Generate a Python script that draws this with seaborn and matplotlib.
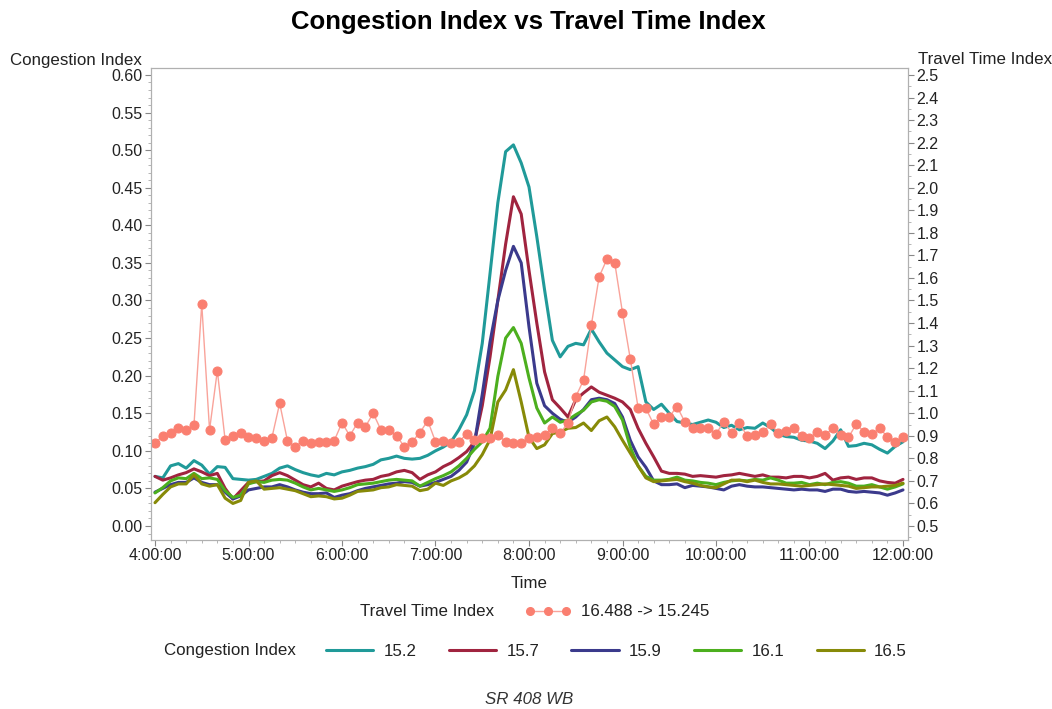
import numpy as np
import pandas as pd
import matplotlib
matplotlib.use("Agg")
import matplotlib.pyplot as plt
import seaborn as sns
from matplotlib.lines import Line2D
from matplotlib.ticker import MultipleLocator, FuncFormatter

# ---------------- data (5-minute intervals, 4:00:00 -> 12:00:00) ----------------
minutes = np.arange(0, 485, 5)

ci_152 = [0.066, 0.064, 0.080, 0.083, 0.077, 0.087, 0.081, 0.069, 0.079, 0.078,
          0.063, 0.062, 0.061, 0.062, 0.066, 0.070, 0.077, 0.080, 0.075, 0.071,
          0.068, 0.066, 0.070, 0.068, 0.072, 0.074, 0.077, 0.079, 0.082, 0.088,
          0.090, 0.093, 0.090, 0.089, 0.090, 0.094, 0.100, 0.105, 0.112, 0.128,
          0.148, 0.180, 0.243, 0.336, 0.430, 0.498, 0.507, 0.483, 0.451, 0.385,
          0.314, 0.247, 0.225, 0.239, 0.243, 0.241, 0.262, 0.245, 0.230, 0.221,
          0.212, 0.208, 0.212, 0.165, 0.155, 0.162, 0.150, 0.139, 0.137, 0.135,
          0.138, 0.141, 0.138, 0.131, 0.134, 0.128, 0.131, 0.130, 0.137, 0.131,
          0.122, 0.119, 0.118, 0.114, 0.113, 0.110, 0.103, 0.113, 0.128, 0.106,
          0.107, 0.110, 0.108, 0.102, 0.097, 0.106, 0.112]

ci_157 = [0.066, 0.061, 0.064, 0.068, 0.071, 0.076, 0.072, 0.067, 0.070, 0.050,
          0.036, 0.047, 0.058, 0.059, 0.060, 0.067, 0.071, 0.067, 0.061, 0.055,
          0.052, 0.057, 0.050, 0.048, 0.053, 0.056, 0.059, 0.061, 0.062, 0.066,
          0.068, 0.072, 0.074, 0.071, 0.062, 0.068, 0.072, 0.079, 0.084, 0.091,
          0.099, 0.112, 0.160, 0.225, 0.300, 0.375, 0.438, 0.415, 0.340, 0.270,
          0.205, 0.168, 0.157, 0.145, 0.168, 0.177, 0.185, 0.178, 0.174, 0.170,
          0.165, 0.155, 0.130, 0.110, 0.092, 0.073, 0.070, 0.070, 0.069, 0.066,
          0.067, 0.066, 0.065, 0.067, 0.068, 0.070, 0.068, 0.066, 0.068, 0.065,
          0.065, 0.064, 0.066, 0.066, 0.064, 0.066, 0.070, 0.061, 0.064, 0.065,
          0.062, 0.064, 0.064, 0.060, 0.058, 0.057, 0.062]

ci_159 = [0.045, 0.050, 0.055, 0.058, 0.058, 0.064, 0.058, 0.055, 0.055, 0.045,
          0.036, 0.040, 0.048, 0.050, 0.052, 0.052, 0.055, 0.052, 0.048, 0.045,
          0.043, 0.043, 0.044, 0.038, 0.041, 0.043, 0.047, 0.050, 0.052, 0.054,
          0.056, 0.057, 0.059, 0.058, 0.053, 0.055, 0.058, 0.062, 0.066, 0.074,
          0.085, 0.110, 0.175, 0.245, 0.300, 0.340, 0.372, 0.350, 0.265, 0.190,
          0.160, 0.150, 0.142, 0.138, 0.145, 0.155, 0.168, 0.170, 0.168, 0.163,
          0.145, 0.114, 0.092, 0.078, 0.060, 0.055, 0.055, 0.056, 0.051, 0.054,
          0.053, 0.052, 0.050, 0.048, 0.053, 0.055, 0.053, 0.052, 0.052, 0.051,
          0.050, 0.049, 0.048, 0.049, 0.048, 0.048, 0.046, 0.049, 0.049, 0.046,
          0.045, 0.046, 0.045, 0.044, 0.041, 0.044, 0.048]

ci_161 = [0.044, 0.051, 0.060, 0.064, 0.063, 0.070, 0.063, 0.064, 0.062, 0.047,
          0.038, 0.041, 0.056, 0.059, 0.058, 0.061, 0.062, 0.061, 0.057, 0.052,
          0.048, 0.050, 0.048, 0.046, 0.048, 0.051, 0.055, 0.056, 0.057, 0.059,
          0.061, 0.062, 0.061, 0.060, 0.053, 0.058, 0.063, 0.067, 0.072, 0.080,
          0.090, 0.102, 0.112, 0.130, 0.199, 0.250, 0.264, 0.243, 0.197, 0.157,
          0.137, 0.145, 0.138, 0.141, 0.148, 0.154, 0.165, 0.168, 0.166, 0.159,
          0.141, 0.105, 0.080, 0.066, 0.061, 0.061, 0.062, 0.065, 0.061, 0.060,
          0.058, 0.057, 0.055, 0.058, 0.060, 0.061, 0.060, 0.062, 0.061, 0.064,
          0.061, 0.057, 0.057, 0.058, 0.055, 0.057, 0.055, 0.058, 0.059, 0.057,
          0.053, 0.053, 0.055, 0.052, 0.049, 0.052, 0.056]

ci_165 = [0.031, 0.042, 0.052, 0.056, 0.056, 0.068, 0.056, 0.053, 0.055, 0.037,
          0.030, 0.034, 0.058, 0.060, 0.049, 0.050, 0.051, 0.049, 0.047, 0.043,
          0.039, 0.040, 0.039, 0.036, 0.037, 0.041, 0.046, 0.047, 0.048, 0.051,
          0.052, 0.055, 0.054, 0.053, 0.047, 0.049, 0.057, 0.054, 0.060, 0.064,
          0.070, 0.080, 0.095, 0.115, 0.165, 0.181, 0.208, 0.165, 0.118, 0.103,
          0.108, 0.123, 0.125, 0.130, 0.131, 0.137, 0.127, 0.140, 0.145, 0.132,
          0.114, 0.097, 0.080, 0.064, 0.059, 0.060, 0.061, 0.062, 0.059, 0.057,
          0.054, 0.052, 0.051, 0.056, 0.061, 0.061, 0.059, 0.061, 0.058, 0.056,
          0.056, 0.055, 0.054, 0.053, 0.054, 0.055, 0.056, 0.055, 0.054, 0.053,
          0.050, 0.051, 0.052, 0.052, 0.053, 0.054, 0.057]

tti = [0.867, 0.900, 0.911, 0.936, 0.924, 0.947, 1.484, 0.926, 1.189, 0.881,
       0.900, 0.911, 0.893, 0.889, 0.878, 0.891, 1.044, 0.878, 0.851, 0.879,
       0.870, 0.874, 0.874, 0.878, 0.958, 0.900, 0.958, 0.940, 1.000, 0.926,
       0.926, 0.900, 0.852, 0.874, 0.914, 0.967, 0.874, 0.877, 0.870, 0.874,
       0.908, 0.881, 0.889, 0.889, 0.904, 0.874, 0.867, 0.870, 0.889, 0.896,
       0.904, 0.933, 0.911, 0.958, 1.073, 1.147, 1.391, 1.605, 1.683, 1.668,
       1.446, 1.241, 1.025, 1.022, 0.951, 0.985, 0.985, 1.029, 0.962, 0.933,
       0.933, 0.935, 0.908, 0.962, 0.914, 0.955, 0.900, 0.904, 0.915, 0.951,
       0.914, 0.923, 0.933, 0.900, 0.889, 0.918, 0.904, 0.933, 0.904, 0.893,
       0.952, 0.918, 0.908, 0.933, 0.896, 0.874, 0.893]

ci_labels = ["15.2", "15.7", "15.9", "16.1", "16.5"]
tti_label = "16.488 -> 15.245"
x_tick_hours = [4, 5, 6, 7, 8, 9, 10, 11, 12]

ci_colors = ["#209a99", "#a0243f", "#3b3a8c", "#4caf1e", "#878a08"]
tti_color = "#fa7f70"
tti_line_color = "#f9a39a"

# ---------------- build frames ----------------
hours = 4 + minutes / 60.0
ci_df = pd.DataFrame({
    "hour": np.tile(hours, 5),
    "ci": np.concatenate([ci_152, ci_157, ci_159, ci_161, ci_165]),
    "series": np.repeat(ci_labels, len(hours)),
})
tti_df = pd.DataFrame({"hour": hours, "tti": tti})

sns.set_style("ticks")
plt.rcParams["font.family"] = ["Liberation Sans", "DejaVu Sans"]

FS_TICK = 11.5
FS_LAB = 12.2
TXT = "#222222"

fig = plt.figure(figsize=(10.52, 7.09), dpi=100)
ax = fig.add_axes([151 / 1052, 1 - 540 / 709, (908 - 151) / 1052, (540 - 68) / 709])

sns.lineplot(data=ci_df, x="hour", y="ci", hue="series", hue_order=ci_labels,
             palette=ci_colors, linewidth=2.2, legend=False, ax=ax, sort=False)

ax2 = ax.twinx()
sns.lineplot(data=tti_df, x="hour", y="tti", color=tti_line_color, linewidth=1.0,
             marker="o", markersize=6.5, markerfacecolor=tti_color,
             markeredgecolor=tti_color, legend=False, ax=ax2, sort=False)

# ---------------- axes ----------------
x0 = 4 - 4 / 93.5
x1 = 12 + 5 / 93.5
y0 = (526 - 540) / 751.7
y1 = (526 - 68) / 751.7

ax.set_xticks(x_tick_hours)
ax.xaxis.set_major_formatter(FuncFormatter(lambda v, p: f"{int(round(v))}:00:00"))
ax.xaxis.set_minor_locator(MultipleLocator(10 / 60))
ax.yaxis.set_major_locator(MultipleLocator(0.05))
ax.yaxis.set_minor_locator(MultipleLocator(0.01))
ax.yaxis.set_major_formatter(FuncFormatter(lambda v, p: f"{v:.2f}"))
ax2.yaxis.set_major_locator(MultipleLocator(0.1))
ax2.yaxis.set_minor_locator(MultipleLocator(0.05))
ax2.yaxis.set_major_formatter(FuncFormatter(lambda v, p: f"{v:.1f}"))

ax.set_xlim(x0, x1)
ax.set_ylim(y0, y1)
ax2.set_ylim(0.5 + y0 * 10 / 3, 0.5 + y1 * 10 / 3)

spine_c = "#b0b0b0"
for a in (ax, ax2):
    for s in a.spines.values():
        s.set_color(spine_c)
        s.set_linewidth(0.8)
    a.tick_params(axis="both", which="major", length=4, width=0.8, color="#888888",
                  labelsize=FS_TICK, labelcolor=TXT, pad=2)
    a.tick_params(axis="both", which="minor", length=2.5, width=0.6, color="#aaaaaa")
    a.set_xlabel("")
    a.set_ylabel("")
ax.tick_params(axis="x", which="major", pad=1.5)

fig.text(10 / 1052, 1 - 60 / 709, "Congestion Index", ha="left", va="center",
         fontsize=FS_LAB, color=TXT)
fig.text(918 / 1052, 1 - 60 / 709, "Travel Time Index", ha="left", va="center",
         fontsize=FS_LAB, color=TXT)
fig.text(529 / 1052, 1 - 583 / 709, "Time", ha="center", va="center",
         fontsize=FS_LAB, color=TXT)
fig.text(528 / 1052, 1 - 22 / 709, "Congestion Index vs Travel Time Index",
         ha="center", va="center", fontsize=18.5, fontweight="bold", color="#000000")
fig.text(529 / 1052, 1 - 699 / 709, "SR 408 WB", ha="center", va="center",
         fontsize=FS_LAB, style="italic", color="#333333")

# ---------------- legends ----------------
fig.text(360 / 1052, 1 - 612 / 709, "Travel Time Index", ha="left", va="center",
         fontsize=FS_LAB, color=TXT)
tti_handle = Line2D([], [], color=tti_line_color, linewidth=1.0, marker="o",
                    markersize=5.5, markerfacecolor=tti_color, markeredgecolor=tti_color)
leg1 = fig.legend(handles=[tti_handle], labels=[tti_label], loc="center left",
                  bbox_to_anchor=(525 / 1052, 1 - 612 / 709), frameon=False,
                  fontsize=FS_LAB, numpoints=3, handlelength=2.7, handletextpad=0.6,
                  borderpad=0, borderaxespad=0)
for t in leg1.get_texts():
    t.set_color(TXT)

fig.text(164 / 1052, 1 - 651 / 709, "Congestion Index", ha="left", va="center",
         fontsize=FS_LAB, color=TXT)
ci_handles = [Line2D([], [], color=c, linewidth=2.2) for c in ci_colors]
leg2 = fig.legend(handles=ci_handles, labels=ci_labels, loc="center left",
                  bbox_to_anchor=(326 / 1052, 1 - 651 / 709), frameon=False,
                  fontsize=FS_LAB, ncol=5, handlelength=2.8, handletextpad=0.6,
                  columnspacing=1.9, borderpad=0, borderaxespad=0)
for t in leg2.get_texts():
    t.set_color(TXT)

fig.savefig("out.png", dpi=100, facecolor="white")
